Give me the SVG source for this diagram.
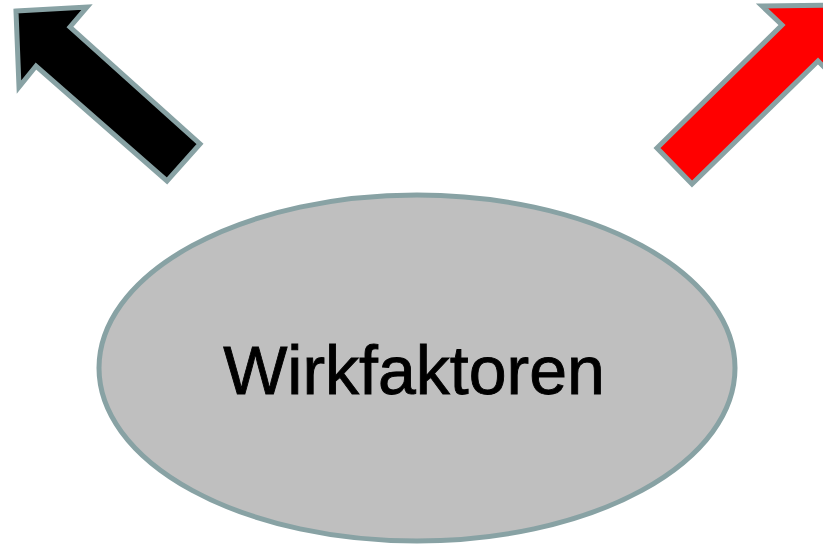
<svg xmlns="http://www.w3.org/2000/svg" width="823" height="545" viewBox="0 0 823 545">
  <style>
    .outline { stroke: #88A2A4; stroke-width: 5; stroke-linejoin: miter; }
    .label { font-family: "Liberation Sans", Arial, sans-serif; font-size: 68px; fill: #000000; stroke: #000000; stroke-width: 0.9; }
  </style>
  <rect width="823" height="545" fill="#FFFFFF"/>
  <g id="connectors">
    <!-- arrow pointing up-left -->
    <polygon id="arrow-left" class="outline" fill="#000000"
      points="16,11 87,7 70,27 200,144 167,181 36,66 19,87"/>
    <!-- arrow pointing up-right, head runs past the right edge -->
    <polygon id="arrow-right" class="outline" fill="#FF0000"
      points="762,6 838,5 837,80 818,61 692,184 657,148 782,25"/>
  </g>
  <g id="node-wirkfaktoren">
    <ellipse cx="417" cy="368" rx="318" ry="173" fill="#BFBFBF" class="outline"/>
    <text class="label" x="414" y="394" text-anchor="middle">Wirkfaktoren</text>
  </g>
</svg>
